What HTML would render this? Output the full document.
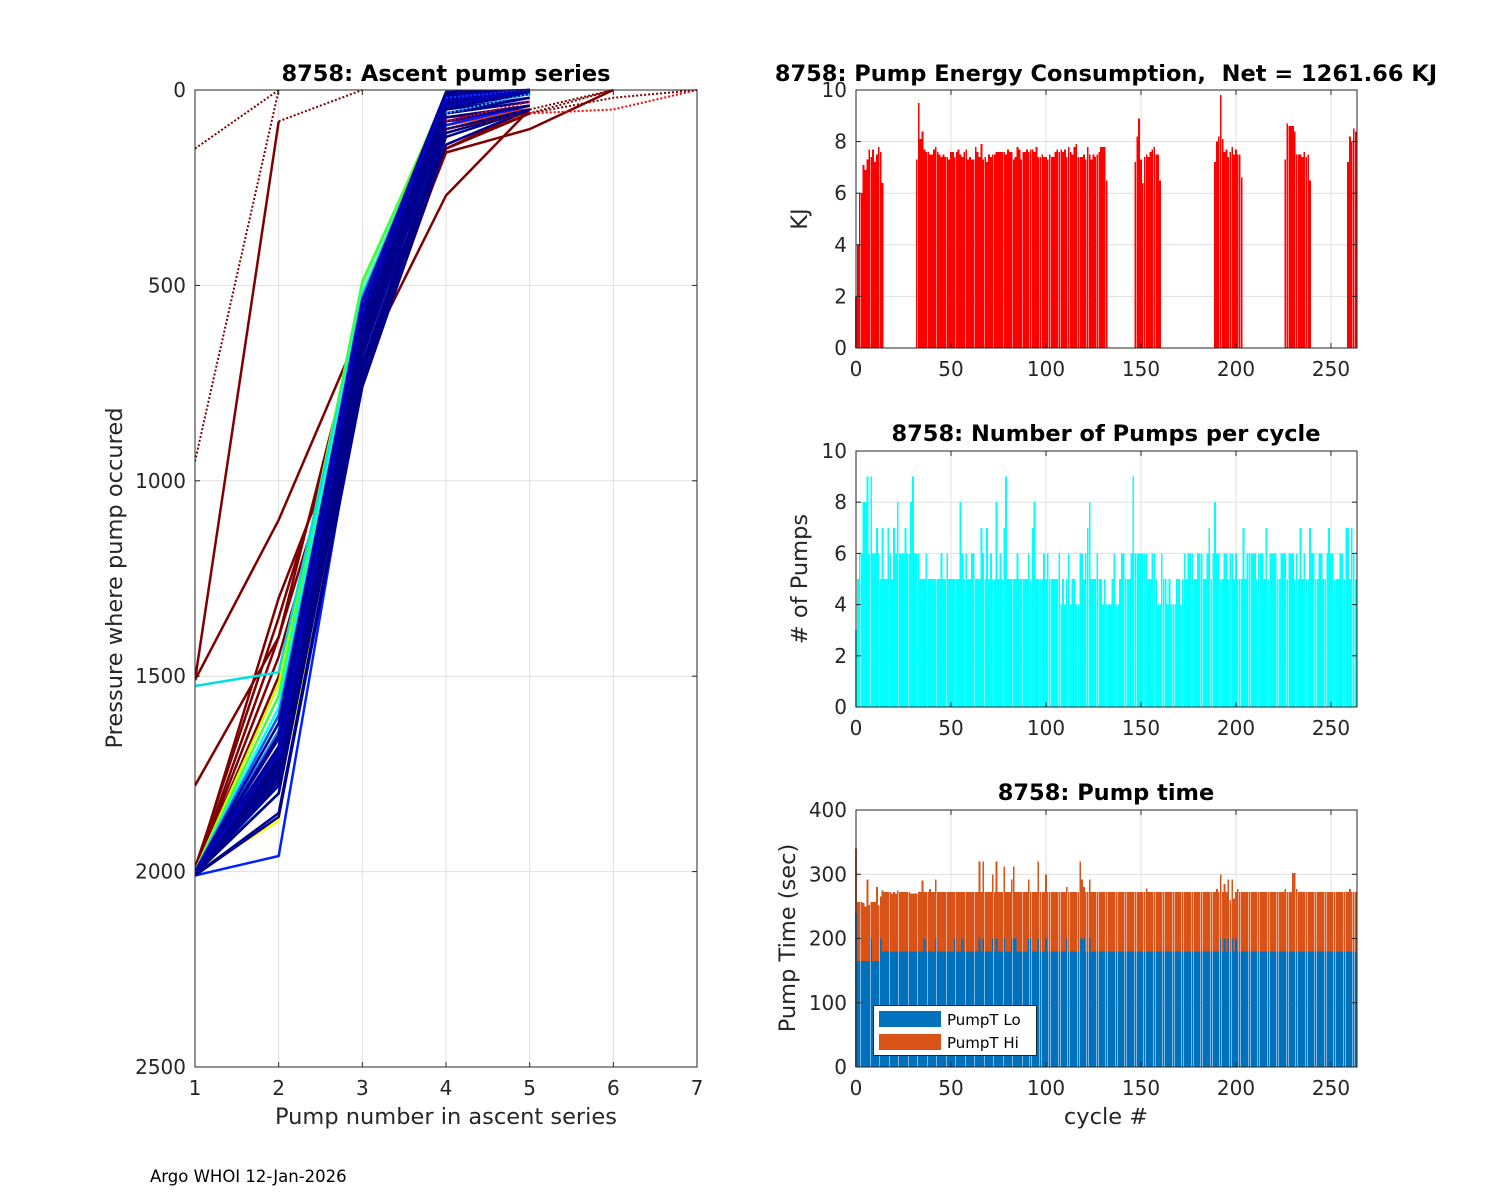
<!DOCTYPE html>
<html><head><meta charset="utf-8"><title>8758 pump charts</title>
<style>
html,body{margin:0;padding:0;background:#fff;}
svg{display:block;font-family:"DejaVu Sans","Liberation Sans",sans-serif;}
.tk{font-size:20px;fill:#262626;}
.lbl{font-size:22.5px;fill:#262626;}
.ttl{font-size:22.5px;font-weight:bold;fill:#000;}
</style></head>
<body>
<svg id="fig" width="1500" height="1200" viewBox="0 0 1500 1200" xmlns="http://www.w3.org/2000/svg">
<rect width="1500" height="1200" fill="#fff"/>
<g id="left"></g>
<g id="energy"></g>
<g id="pumps"></g>
<g id="ptime"></g>
<text x="446" y="81" text-anchor="middle" class="ttl">8758: Ascent pump series</text>
<text x="1106" y="81" text-anchor="middle" class="ttl" xml:space="preserve">8758: Pump Energy Consumption,  Net = 1261.66 KJ</text>
<text x="1106" y="441" text-anchor="middle" class="ttl">8758: Number of Pumps per cycle</text>
<text x="1106" y="800" text-anchor="middle" class="ttl">8758: Pump time</text>
<text x="122" y="578" text-anchor="middle" class="lbl" transform="rotate(-90 122 578)">Pressure where pump occured</text>
<text x="446" y="1124" text-anchor="middle" class="lbl">Pump number in ascent series</text>
<text x="807" y="219" text-anchor="middle" class="lbl" transform="rotate(-90 807 219)">KJ</text>
<text x="807" y="579" text-anchor="middle" class="lbl" transform="rotate(-90 807 579)"># of Pumps</text>
<text x="795" y="938" text-anchor="middle" class="lbl" transform="rotate(-90 795 938)">Pump Time (sec)</text>
<text x="1106" y="1124" text-anchor="middle" class="lbl">cycle #</text>
<text x="150" y="1182" style="font-size:16.5px;fill:#000">Argo WHOI 12-Jan-2026</text>
</svg>
<script>
// ---------- Data ----------
const energyKJ = [2,4,6,6,7.1,6.9,7.3,7.7,7.4,7.7,7.2,7.5,7.8,7.6,6.4,
0,0,0,0,0,0,0,0,0,0,0,0,0,0,0,0,0,
7.3,9.5,8.1,8.4,7.7,7.6,7.6,7.5,7.5,7.7,
7.8,7.6,7.5,7.4,7.5,7.4,7.4,7.3,7.6,7.6,
7.4,7.6,7.7,7.5,7.4,7.6,7.7,7.3,7.4,7.3,
7.3,7.8,7.6,7.4,7.9,7.3,7.4,7.2,7.5,7.4,
7.5,7.5,7.6,7.6,7.6,7.6,7.6,7.5,7.7,7.6,
7.6,7.3,7.4,7.8,7.7,7.3,7.6,7.6,7.7,7.6,
7.7,7.7,7.6,7.8,7.4,7.4,7.5,7.4,7.4,7.3,
7.5,7.4,7.4,7.6,7.7,7.6,7.7,7.6,7.7,7.4,
7.8,7.6,7.5,7.8,7.9,7.4,7.4,7.4,7.5,7.3,
7.8,7.5,7.3,7.5,7.4,7.5,7.6,7.8,7.8,7.8,
6.5,
0,0,0,0,0,0,0,0,0,0,0,0,0,0,
7.2,8.2,8.9,7.3,6.4,7.4,7.5,7.4,7.6,7.7,7.8,7.5,7.5,6.5,
0,0,0,0,0,0,0,0,0,0,0,0,0,0,0,0,0,0,0,0,0,0,0,0,0,0,0,0,
7.2,8.0,8.2,9.8,8.1,7.6,7.7,7.4,7.6,7.8,7.5,7.7,7.5,7.5,6.6,
0,0,0,0,0,0,0,0,0,0,0,0,0,0,0,0,0,0,0,0,0,0,
7.3,8.7,8.6,8.6,8.6,8.4,7.5,7.5,7.5,7.4,7.6,7.4,7.5,6.5,
0,0,0,0,0,0,0,0,0,0,0,0,0,0,0,0,0,0,0,
7.2,8.2,8.0,8.5,8.4];

const pumpCount = [3,5,6,6,8,8,9,6,9,6, 6,7,6,5,7,5,5,7,6,5, 7,6,8,6,6,6,7,6,6,8,
9,6,6,6,5,5,5,6,5,5, 5,5,5,5,5,6,5,5,6,5, 5,5,5,5,5,8,6,5,6,5,
5,6,6,5,5,5,7,6,5,7, 5,6,5,5,8,5,6,5,7,9, 5,5,5,5,5,6,5,5,5,5,
5,6,5,7,8,5,5,5,5,6, 5,6,5,5,5,5,5,6,4,5, 4,5,6,4,5,5,4,4,6,6,
5,6,7,8,5,5,5,6,5,5, 4,5,4,4,4,5,6,4,4,5, 6,6,5,5,5,6,9,6,6,6,
6,6,6,6,5,5,6,6,5,4, 4,6,5,5,4,5,4,4,4,5, 5,4,5,6,5,6,6,6,5,5,
6,6,6,5,5,6,7,5,6,8, 6,6,5,5,6,6,5,6,6,5, 6,5,5,5,7,5,6,6,6,6,
6,5,6,6,6,5,7,5,6,6, 6,6,5,5,6,6,6,5,6,6, 6,5,6,5,7,5,6,5,5,7,
6,6,5,5,6,6,5,5,6,7, 6,6,5,5,5,6,6,5,7,7, 5,7,6,5];

const pumpTLo = [240,165,165,165,165,165,165,165,200,165,165,165,165,200,180,180,180,180,180,180,
180,180,180,180,180,180,180,180,180,180,180,180,180,180,180,180,200,180,180,180,
180,180,200,180,180,180,180,180,180,180,180,180,200,180,180,180,200,180,180,180,
180,180,180,180,180,200,180,200,180,180,180,180,200,180,200,180,180,180,200,180,
180,180,200,200,200,180,180,180,180,180,180,200,200,180,180,180,200,180,180,180,
200,180,180,180,180,180,180,180,180,180,180,200,180,180,180,180,180,180,200,200,
200,180,180,200,180,180,180,180,180,180,180,180,180,180,180,180,180,180,180,180,
180,180,180,180,180,180,180,180,180,180,180,180,180,180,180,180,180,180,180,180,
180,180,180,180,180,180,180,180,180,180,180,180,180,180,180,180,180,180,180,180,
180,180,180,180,180,180,180,180,180,180,180,180,200,180,200,180,200,180,200,180,
200,180,180,180,180,180,180,180,180,180,180,180,180,180,180,180,180,180,180,180,
180,180,180,180,180,180,180,180,180,180,180,180,180,180,180,180,180,180,180,180,
180,180,180,180,180,180,180,180,180,180,180,180,180,180,180,180,180,180,180,180,
180,180,180,180];

const pumpTHi = [100,92,92,92,90,85,127,87,57,92,92,115,86,65,95,92,92,92,92,90,
92,90,95,92,92,92,92,92,92,90,90,90,90,92,92,110,72,92,92,97,
92,92,92,92,92,92,92,92,92,92,92,92,72,92,92,92,72,92,92,92,
92,92,92,92,92,120,92,120,92,92,92,92,100,92,120,92,92,92,112,92,
92,92,92,112,72,92,92,92,92,92,92,92,72,92,92,92,120,92,92,92,
100,92,92,92,92,92,92,92,92,92,92,80,92,92,92,92,92,92,120,92,
80,92,92,92,92,92,92,92,92,92,92,92,92,92,92,92,92,92,92,92,
92,92,92,92,92,92,92,92,92,92,92,92,92,98,92,92,92,92,92,92,
92,92,92,92,92,92,92,92,92,92,92,92,92,92,92,92,92,92,92,92,
92,92,92,92,92,92,92,92,92,92,97,92,100,92,85,92,92,80,92,82,
72,97,92,92,92,92,92,92,92,92,92,92,92,92,92,92,92,92,92,92,
92,92,92,92,92,92,97,92,92,92,122,122,97,92,92,92,92,92,92,92,
92,92,92,92,92,92,92,92,92,92,92,92,92,92,92,92,92,92,92,92,
97,92,92,92];

// Ascent series profiles (pressure at pump n; null = no pump)
const profiles = [
 [2000,1500,680,80,60],[2000,1450,700,270,50],[1990,1350,650,150,60],[2000,1400,700,160,100,0],
 [1510,1100,600,150,50],[1780,1400,560,150,60],[1510,80],[2000,1300,750,150,60],
 [2000,1720,540,70,50],[2000,1600,560,80,40],[2000,1700,490,30,0],[2000,1740,520,90,50],
 [2000,1870,620,40,10],[2000,1520,500,10,0],[2000,1620,500,10,0],[2000,1550,490,20,0],
 [1525,1490,540,40,0],[2000,1580,520,20,0],[2000,1800,620,60,30],[2000,1640,530,30,0],
 [2010,1960,720,90,40],[2000,1600,560,20,0],
 [2005,1700,600,30,10],[2008,1720,620,40,5],[2003,1680,590,20,0],[2010,1750,650,60,30],
 [2005,1780,680,80,40],[2000,1650,560,10,0],[2007,1800,700,100,50],[2004,1740,640,50,20],
 [2002,1690,610,25,5],[2006,1760,660,70,40],[2009,1850,740,120,50],[2001,1620,540,5,0],
 [2006,1710,630,35,10],[2004,1730,610,45,10],[2008,1770,670,60,20],[2003,1660,580,15,0],
 [2005,1800,720,110,50],[2010,1860,760,140,50],[2002,1700,560,20,0],[2006,1750,600,40,10],
 [150,0],[950,0],[null,80,0],[null,null,null,40,0],[null,null,null,20,0],[null,null,null,60,10],
 [null,null,null,30,0],[null,null,null,80,30],
 [null,null,null,null,60,20,0],[null,null,null,null,50,0],[null,null,null,100,60,0],[null,null,null,null,60,50,0]
];
const profileColors = ["#800000","#800000","#800000","#800000","#800000","#800000","#800000","#800000",
 "#ff0000","#e00000","#ff8000","#ff4000","#ffff00","#c8ff00","#80ff80","#40ff40",
 "#00e0e0","#00ffff","#00c0ff","#0080ff","#0020ff","#0060ff",
 "#00008f","#000080","#000090","#00008f","#0000a0","#000080","#00008f","#000090",
 "#0000a0","#000080","#00008f","#0000a0","#000080","#00008f","#000090","#0000a0",
 "#000080","#00008f","#0000c0","#000090",
 "#800000","#800000","#800000","#0000ff","#0040ff","#00c0ff","#0000c0","#ff0000",
 "#800000","#800000","#800000","#ff0000"];
const profileDotted = [0,0,0,0,0,0,0,0, 0,0,0,0,0,0,0,0, 0,0,0,0,0,0,
 0,0,0,0,0,0,0,0,0,0,0,0,0,0,0,0, 0,0,0,0,
 1,1,1,1,1,1,1,1, 1,1,1,1];

const leftYTicks = [0,500,1000,1500,2000,2500];
const leftXTicks = [1,2,3,4,5,6,7];
const cycleTicks = [0,50,100,150,200,250];
const energyTicks = [0,2,4,6,8,10];
const pumpTicks = [0,2,4,6,8,10];
const timeTicks = [0,100,200,300,400];

// ---------- Helpers ----------
const NS = "http://www.w3.org/2000/svg";
function el(parent, tag, attrs){ const e=document.createElementNS(NS,tag); for(const k in attrs) e.setAttribute(k,attrs[k]); parent.appendChild(e); return e; }
function lin(d0,d1,r0,r1){ return v => r0 + (v-d0)/(d1-d0)*(r1-r0); }

function axesFrame(g, L,T,R,B, xs, xt, ys, yt, showXLabels, nm){
  xt.forEach(v=>{ const x=xs(v); const ln=el(g,'line',{x1:x,x2:x,y1:T,y2:B,stroke:'#dfdfdf','stroke-width':1});
    
     });
  yt.forEach(v=>{ const y=ys(v); const ln=el(g,'line',{x1:L,x2:R,y1:y,y2:y,stroke:'#dfdfdf','stroke-width':1});
    
     });
}
function axesBox(g, L,T,R,B, xs, xt, ys, yt, nm, yLabelX, xLabelY){
  const box=el(g,'rect',{x:L,y:T,width:R-L,height:B-T,fill:'none',stroke:'#262626','stroke-width':1});
  
  
  xt.forEach(v=>{ const x=xs(v);
    el(g,'line',{x1:x,x2:x,y1:B,y2:B-5,stroke:'#262626'}); el(g,'line',{x1:x,x2:x,y1:T,y2:T+5,stroke:'#262626'});
    const t=el(g,'text',{x:x,y:xLabelY,'text-anchor':'middle',class:'tk'}); t.textContent=v;
    
     });
  yt.forEach(v=>{ const y=ys(v);
    el(g,'line',{x1:L,x2:L+5,y1:y,y2:y,stroke:'#262626'}); el(g,'line',{x1:R,x2:R-5,y1:y,y2:y,stroke:'#262626'});
    const t=el(g,'text',{x:yLabelX,y:y+7,'text-anchor':'end',class:'tk'}); t.textContent=v;
    
     });
}

// ---------- Left chart ----------
(function(){
  const g=document.getElementById('left');
  const L=195,R=697,T=90,B=1067;
  const xs=lin(1,7,L,R), ys=lin(0,2500,T,B);
  axesFrame(g,L,T,R,B,xs,leftXTicks,ys,leftYTicks,true,'ascent');
  const clip=el(g,'clipPath',{id:'lclip'}); el(clip,'rect',{x:L,y:T-2,width:R-L,height:B-T+4});
  const lg=el(g,'g',{'clip-path':'url(#lclip)'});
  profiles.forEach((p,i)=>{
    const pts=[]; p.forEach((v,j)=>{ if(v!==null) pts.push(xs(j+1).toFixed(1)+','+ys(v).toFixed(1)); });
    const a={points:pts.join(' '),fill:'none',stroke:profileColors[i],'stroke-width':profileDotted[i]?2:2.5,'stroke-linejoin':'round'};
    if(profileDotted[i]) a['stroke-dasharray']='2,2';
    const pl=el(lg,'polyline',a);
    
    
  });
  axesBox(g,L,T,R,B,xs,leftXTicks,ys,leftYTicks,'ascent',186,1095);
})();

// ---------- Right charts ----------
const CL=856, CR=1357, CMAX=263.7;
function barChart(id, T, B, ymax, ticks, nm, draw){
  const g=document.getElementById(id);
  const xs=lin(0,CMAX,CL,CR), ys=lin(0,ymax,B,T);
  axesFrame(g,CL,T,CR,B,xs,cycleTicks,ys,ticks,true,nm);
  draw(g,xs,ys);
  axesBox(g,CL,T,CR,B,xs,cycleTicks,ys,ticks,nm,847,B+28);
}
const bw = 0.9*(CR-CL)/CMAX;

barChart('energy',90,348,10,energyTicks,'energy',(g,xs,ys)=>{
  energyKJ.forEach((v,i)=>{ if(v<=0) return;
    const b=el(g,'rect',{x:(xs(i)-bw/2).toFixed(2),y:ys(v).toFixed(2),width:bw.toFixed(2),height:(ys(0)-ys(v)).toFixed(2),fill:'#ff0000','shape-rendering':'crispEdges'});
    
     });
});
barChart('pumps',451,707,10,pumpTicks,'pumps',(g,xs,ys)=>{
  pumpCount.forEach((v,i)=>{ if(v<=0) return;
    const b=el(g,'rect',{x:(xs(i)-bw/2).toFixed(2),y:ys(v).toFixed(2),width:bw.toFixed(2),height:(ys(0)-ys(v)).toFixed(2),fill:'#00ffff','shape-rendering':'crispEdges'});
    
     });
});
barChart('ptime',810,1067,400,timeTicks,'pump-time',(g,xs,ys)=>{
  pumpTLo.forEach((v,i)=>{
    const b=el(g,'rect',{x:(xs(i)-bw/2).toFixed(2),y:ys(v).toFixed(2),width:bw.toFixed(2),height:(ys(0)-ys(v)).toFixed(2),fill:'#0072bd','shape-rendering':'crispEdges'});
    
    
    const h=pumpTHi[i];
    const b2=el(g,'rect',{x:(xs(i)-bw/2).toFixed(2),y:ys(v+h).toFixed(2),width:bw.toFixed(2),height:(ys(v)-ys(v+h)).toFixed(2),fill:'#d95319','shape-rendering':'crispEdges'});
    
    
  });
  const lgd=el(g,'g',{});
  
  
  el(lgd,'rect',{x:873.5,y:1005.5,width:163,height:50,fill:'#fff',stroke:'#262626'});
  el(lgd,'rect',{x:879,y:1011,width:62,height:16,fill:'#0072bd'});
  el(lgd,'rect',{x:879,y:1034,width:62,height:16,fill:'#d95319'});
  const t1=el(lgd,'text',{x:947,y:1025,style:'font-size:15px;fill:#000'}); t1.textContent='PumpT Lo';
  
  
  const t2=el(lgd,'text',{x:947,y:1048,style:'font-size:15px;fill:#000'}); t2.textContent='PumpT Hi';
  
  
});
</script>
</body></html>
